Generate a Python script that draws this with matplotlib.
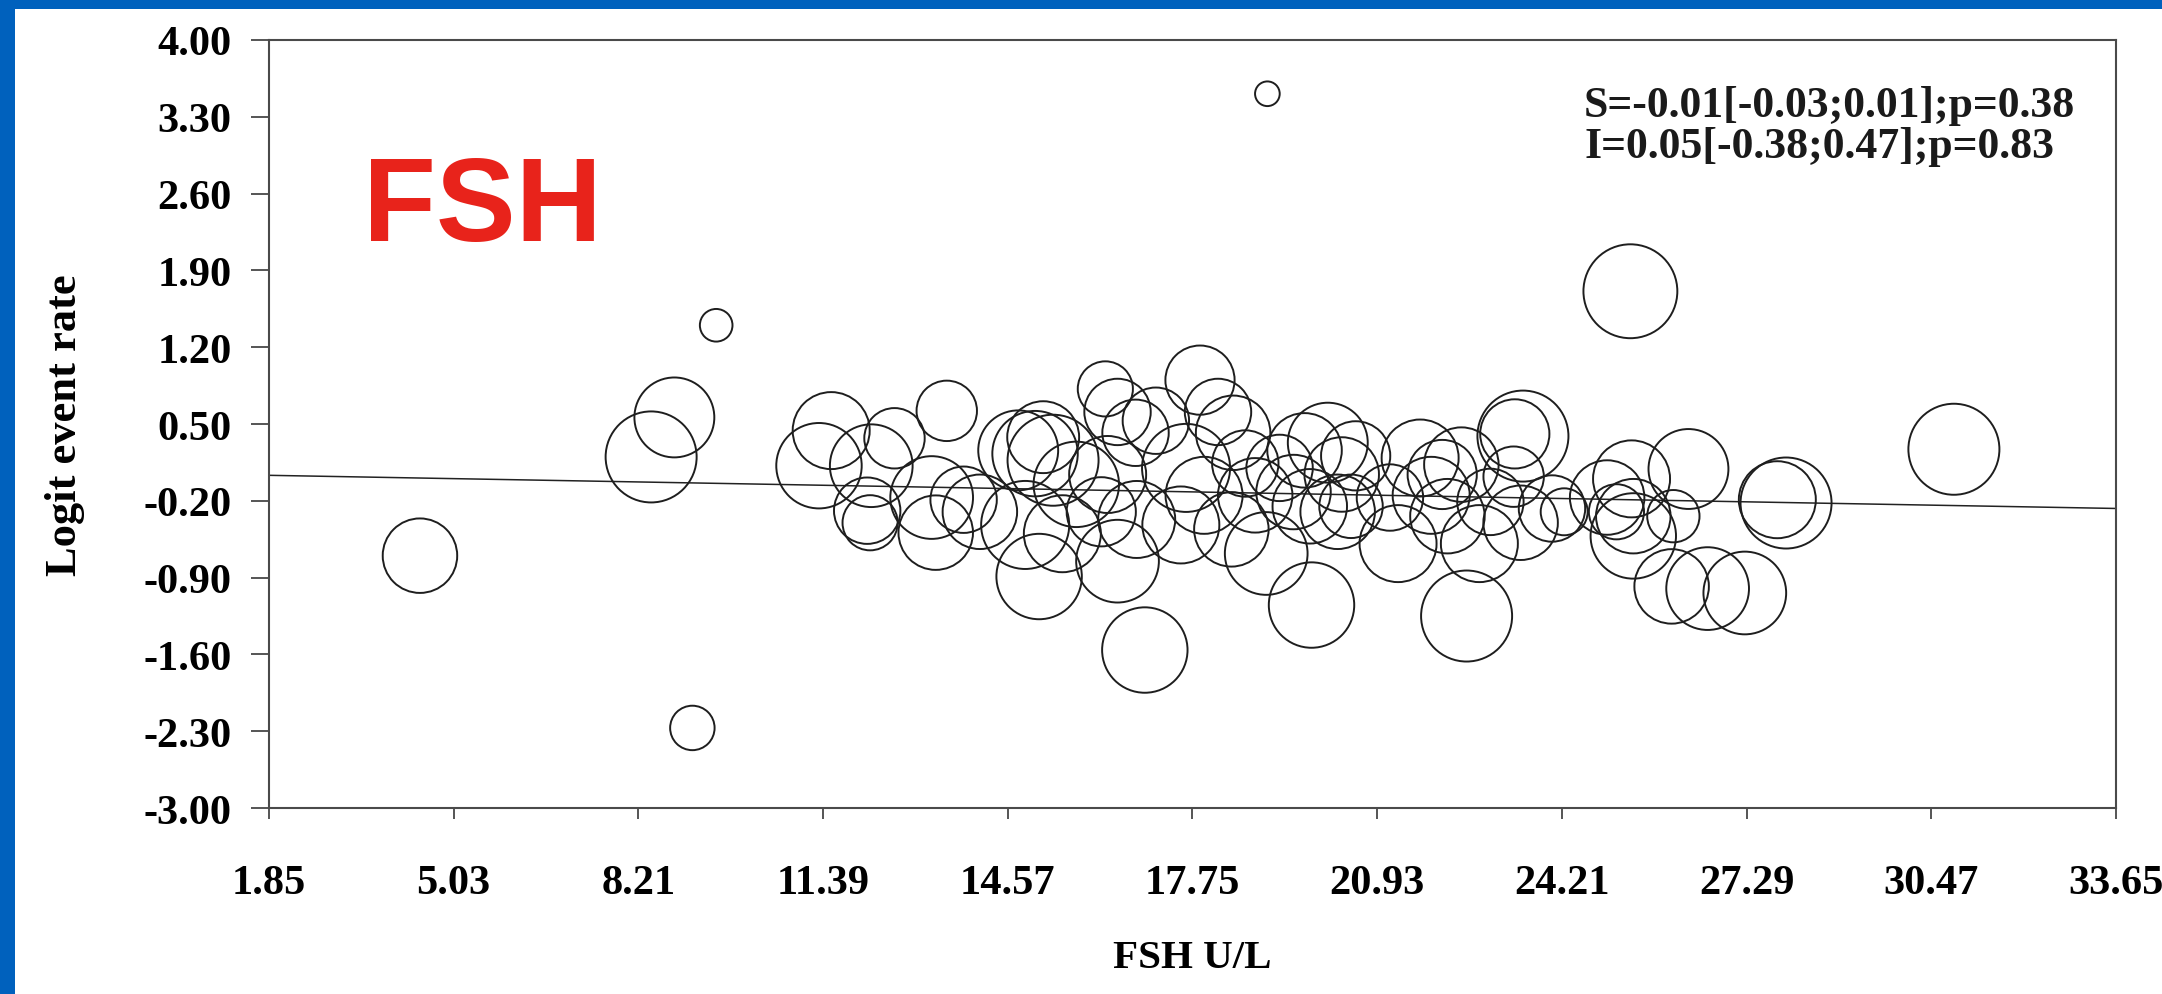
"""Meta-regression bubble plot: logit event rate vs FSH (U/L)."""

import numpy as np
import matplotlib
matplotlib.use("Agg")
import matplotlib.pyplot as plt
from matplotlib.patches import Rectangle

# study-level data
fsh = [4.45, 8.43, 8.83, 9.55, 9.14, 19.04, 25.29, 30.86,
       11.32, 11.53, 12.62, 13.52, 12.22, 12.15, 12.20, 13.26, 13.33, 13.81, 14.09,
       14.75, 15.04, 15.18, 15.35, 15.11, 14.87, 15.51, 15.75, 16.25, 16.46, 16.46,
       16.93, 16.29, 16.77, 17.12, 16.79, 16.18,
       17.88, 17.64, 17.55, 17.95, 18.19, 18.45, 18.66, 18.42, 18.83, 19.02, 19.25,
       19.49, 19.68, 19.80, 19.77, 20.08, 20.32, 20.25, 20.56, 20.48,
       21.29, 21.15, 21.67, 21.86, 22.05, 22.14, 22.38, 22.47, 22.69, 22.88, 23.28,
       23.40, 23.44, 23.30, 23.94, 24.15,
       24.89, 25.31, 25.34, 25.34, 25.05, 26.29, 26.03, 26.00, 26.62, 27.26, 27.82, 27.97]
logit = [-0.70, 0.20, 0.56, 1.40, -2.27, 3.51, 1.71, 0.27,
         0.12, 0.44, 0.37, 0.62, 0.12, -0.29, -0.40, -0.17, -0.49, -0.19, -0.30,
         0.26, 0.23, 0.38, 0.17, -0.89, -0.42, -0.50, -0.05, 0.82, 0.61, -0.75,
         -1.56, 0.04, 0.42, 0.53, -0.37, -0.30,
         0.90, 0.10, -0.42, -0.15, 0.61, 0.42, 0.14, -0.46, -0.15, -0.68, 0.10,
         -0.12, 0.26, -1.15, -0.25, 0.33, 0.04, -0.30, 0.21, -0.25,
         -0.59, -0.17, 0.19, -0.15, 0.04, -0.34, 0.13, -1.25, -0.59, -0.21, 0.02,
         -0.40, 0.39, 0.41, -0.27, -0.30,
         -0.17, 0.00, -0.34, -0.52, -0.30, 0.09, -0.34, -0.98, -1.00, -1.04, -0.19, -0.22]
weight = [7.3, 10.9, 8.4, 1.4, 2.6, 0.8, 11.6, 10.9,
          9.6, 7.8, 4.8, 4.8, 9.0, 5.8, 4.0, 9.0, 7.3, 5.8, 7.3,
          8.4, 9.6, 6.8, 10.9, 9.6, 10.2, 7.8, 9.6, 4.0, 5.8, 9.0,
          9.6, 7.8, 5.8, 5.8, 7.8, 6.3,
          6.3, 10.2, 7.8, 7.8, 5.8, 7.3, 5.8, 7.3, 7.3, 9.0, 5.8,
          7.3, 7.3, 9.6, 7.3, 8.4, 7.3, 7.3, 6.3, 5.3,
          7.8, 5.8, 7.8, 7.8, 6.3, 7.3, 7.3, 10.9, 7.8, 5.8, 4.8,
          7.3, 10.9, 6.3, 5.8, 2.9,
          7.3, 7.8, 7.3, 9.6, 4.0, 8.4, 3.6, 7.3, 9.0, 9.0, 7.8, 10.9]

intercept, slope = 0.05, -0.0095
xtick_labels = ["1.85", "5.03", "8.21", "11.39", "14.57", "17.75",
                "20.93", "24.21", "27.29", "30.47", "33.65"]
ytick_labels = ["4.00", "3.30", "2.60", "1.90", "1.20", "0.50",
                "-0.20", "-0.90", "-1.60", "-2.30", "-3.00"]
stats = ["S=-0.01[-0.03;0.01];p=0.38", "I=0.05[-0.38;0.47];p=0.83"]

SERIF = ["Liberation Serif", "DejaVu Serif"]

fig = plt.figure(figsize=(21.62, 9.95), dpi=100)
fig.patch.set_facecolor("#0061BD")
fig.patches.append(Rectangle((15 / 2162, 0), 1, 1 - 10 / 995, transform=fig.transFigure,
                             facecolor="white", edgecolor="none", zorder=-10))
ax = fig.add_axes([0.1244, 0.1869, 0.8543, 0.7719])
ax.set_facecolor("white")

ax.scatter(fsh, logit, s=np.array(weight) * 394, facecolors="none",
           edgecolors="#1e1e1e", linewidths=1.4, zorder=3)
xl = np.array([1.85, 33.65])
ax.plot(xl, intercept + slope * xl, color="#222222", lw=1.1, zorder=2)

ax.set_xlim(1.85, 33.65)
ax.set_ylim(-3.0, 4.0)
ax.set_xticks(np.linspace(1.85, 33.65, 11))
ax.set_xticklabels(xtick_labels)
ax.set_yticks(np.linspace(4.0, -3.0, 11))
ax.set_yticklabels(ytick_labels)
for lab in ax.get_xticklabels() + ax.get_yticklabels():
    lab.set_family(SERIF); lab.set_fontweight("bold"); lab.set_fontsize(30.5)
ax.tick_params(axis="y", length=13, width=1.4, color="#555555", pad=14)
ax.tick_params(axis="x", length=8, width=1.4, color="#555555", pad=32)
for sp in ax.spines.values():
    sp.set_color("#4a4a4a"); sp.set_linewidth(1.5)

ax.set_xlabel("FSH U/L", family=SERIF, fontweight="bold", fontsize=29.5)
ax.set_ylabel("Logit event rate", family=SERIF, fontweight="bold", fontsize=32)
ax.xaxis.set_label_coords(0.5, -0.171)
ax.yaxis.set_label_coords(-0.0996, 0.5)

ax.text(0.712, 0.915, stats[0], transform=ax.transAxes, va="center", ha="left",
        family=SERIF, fontweight="bold", fontsize=31.5, color="#1a1a1a")
ax.text(0.712, 0.862, stats[1], transform=ax.transAxes, va="center", ha="left",
        family=SERIF, fontweight="bold", fontsize=31.5, color="#1a1a1a")
ax.text(0.0509, 0.7396, "FSH", transform=ax.transAxes, va="baseline", ha="left",
        family=["Liberation Sans", "DejaVu Sans"], fontweight="bold", fontsize=86,
        color="#E8231B")

fig.savefig("out.png", dpi=100)
